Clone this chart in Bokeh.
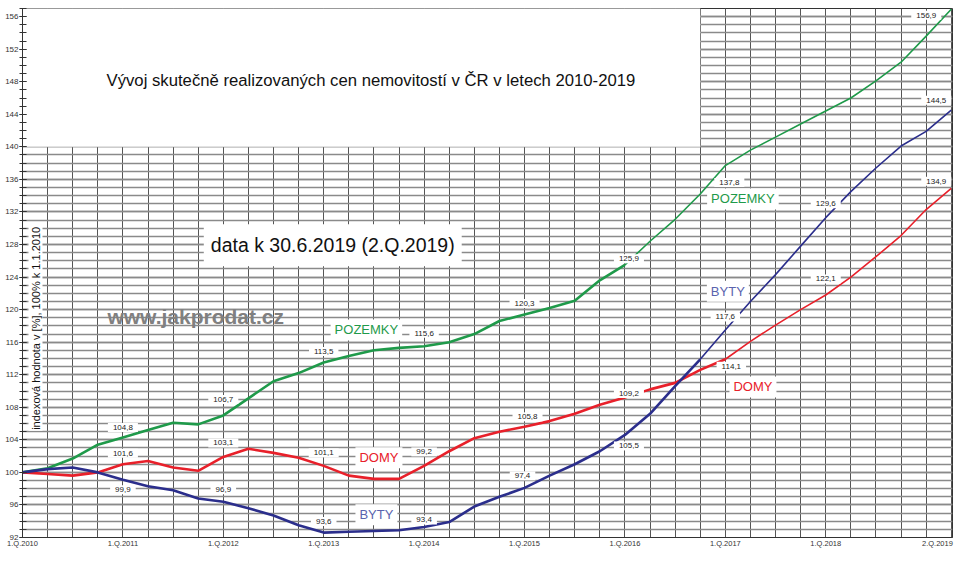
from math import pi
from bokeh.plotting import figure
from bokeh.models import Range1d, FixedTicker, Label
from bokeh.embed import file_html
from bokeh.resources import INLINE

# ---------------- data ----------------
quarters = list(range(38))  # 1.Q.2010 ... 2.Q.2019

byty = [100.0, 100.4, 100.6, 100.0, 99.1, 98.3, 97.8, 96.8, 96.4, 95.6,
        94.7, 93.5, 92.6, 92.7, 92.8, 92.9, 93.3, 93.9, 95.8, 97.0,
        98.1, 99.6, 101.0, 102.6, 104.6, 107.2, 110.6, 113.9, 117.5, 121.0,
        124.3, 127.8, 131.3, 134.5, 137.4, 140.1, 141.9, 144.5]

domy = [100.0, 99.8, 99.6, 100.0, 101.0, 101.4, 100.6, 100.2, 101.9, 102.9,
        102.4, 101.8, 100.8, 99.6, 99.2, 99.2, 100.8, 102.6, 104.2, 105.0,
        105.6, 106.3, 107.2, 108.3, 109.2, 110.2, 111.0, 112.6, 113.9, 116.1,
        118.1, 120.0, 121.8, 124.0, 126.5, 129.1, 132.3, 134.9]

pozemky = [100.0, 100.5, 101.7, 103.4, 104.3, 105.2, 106.1, 105.9, 107.0, 109.1,
           111.2, 112.2, 113.5, 114.3, 115.0, 115.3, 115.5, 116.0, 117.0, 118.6,
           119.4, 120.2, 121.1, 123.6, 125.5, 128.4, 131.1, 134.2, 137.7, 139.6,
           141.2, 142.8, 144.4, 146.0, 148.1, 150.4, 153.6, 156.9]

x_tick_quarters = [0, 4, 8, 12, 16, 20, 24, 28, 32]
x_tick_labels = ["1.Q.2010", "1.Q.2011", "1.Q.2012", "1.Q.2013", "1.Q.2014",
                 "1.Q.2015", "1.Q.2016", "1.Q.2017", "1.Q.2018"]
last_quarter_label = "2.Q.2019"
y_ticks = list(range(92, 157, 4))

label_quarters_byty = [4, 8, 12, 16, 20, 24, 28, 32, 37]
label_texts_byty = ["99,9", "96,9", "93,6", "93,4", "97,4", "105,5", "117,6", "129,6", "144,5"]
label_quarters_domy = [4, 8, 12, 16, 20, 24, 28, 32, 37]
label_texts_domy = ["101,6", "103,1", "101,1", "99,2", "105,8", "109,2", "114,1", "122,1", "134,9"]
label_quarters_pozemky = [4, 8, 12, 16, 20, 24, 28, 37]
label_texts_pozemky = ["104,8", "106,7", "113,5", "115,6", "120,3", "125,9", "137,8", "156,9"]

title_text = "Vývoj skutečně realizovaných cen nemovitostí v ČR v letech 2010-2019"
date_text = "data k 30.6.2019 (2.Q.2019)"
web_text = "www.jakprodat.cz"
ylabel_text = "indexová hodnota v [%], 100% k 1.1.2010"

# ---------------- styles / placement ----------------
FONT = "Liberation Sans"
C_BYTY = "#2b2e8c"
C_BYTY_TXT = "#5a63ae"
C_DOMY = "#e8202a"
C_POZ = "#1f9a4a"

# pixel offsets of value labels relative to their point (dx right, dy up)
off_byty = [(0, -10), (0, 12), (0, 11), (0, 7), (-2, 12), (4, -11), (0, 13), (0, 14), (-15, 10)]
off_domy = [(0, 11), (0, 14), (0, 13), (0, 14), (3, 10), (4, 4), (6, -7), (0, 16), (-15, 7)]
off_poz = [(0, 10), (0, 16), (0, 11), (0, 13), (0, 11), (4, 6), (4, -17), (-25, -6)]

LAST_LABEL_POS = 36.45  # where the right-most axis label is centred

p = figure(width=954, height=550, x_range=Range1d(0, 37.05), y_range=Range1d(92, 157),
           output_backend="svg", toolbar_location=None,
           min_border_left=22, min_border_right=2, min_border_top=8, min_border_bottom=0)

p.background_fill_color = "white"
p.border_fill_color = "white"
p.outline_line_color = "#333333"
p.outline_line_width = 1

# axes
p.xaxis.ticker = FixedTicker(ticks=x_tick_quarters + [LAST_LABEL_POS], minor_ticks=[])
overrides = {q: t for q, t in zip(x_tick_quarters, x_tick_labels)}
overrides[LAST_LABEL_POS] = last_quarter_label
p.xaxis.major_label_overrides = overrides
p.yaxis.ticker = FixedTicker(ticks=y_ticks, minor_ticks=list(range(92, 158)))
for ax in (p.xaxis[0], p.yaxis[0]):
    ax.axis_line_color = "#333333"
    ax.major_label_text_font = FONT
    ax.major_label_text_color = "#333333"
    ax.major_tick_line_color = "#333333"
    ax.minor_tick_line_color = "#333333"
p.xaxis.major_label_text_font_size = "7.5px"
p.xaxis.major_label_standoff = 1
p.xaxis.major_tick_in = 0
p.xaxis.major_tick_out = 0
p.xaxis.minor_tick_in = 0
p.xaxis.minor_tick_out = 0
p.yaxis.major_label_text_font_size = "8px"
p.yaxis.major_label_standoff = 1
p.yaxis.major_tick_in = 4
p.yaxis.major_tick_out = 3
p.yaxis.minor_tick_in = 4
p.yaxis.minor_tick_out = 3

# grid
p.xgrid.ticker = FixedTicker(ticks=x_tick_quarters, minor_ticks=quarters)
p.xgrid.grid_line_color = "#555555"
p.xgrid.minor_grid_line_color = "#555555"
p.xgrid.grid_line_width = 1
p.xgrid.minor_grid_line_width = 1
p.ygrid.grid_line_color = "#8a8a8a"
p.ygrid.minor_grid_line_color = "#8a8a8a"
p.ygrid.grid_line_width = 1.4
p.ygrid.minor_grid_line_width = 1.4

# blank area at top-left (no grid there in the original)
p.quad(left=-1, right=27, bottom=140, top=158, fill_color="white", line_color=None)

# series lines: thicker left part, thinner right part
def draw(series, color, k):
    p.line(quarters[:k + 1], series[:k + 1], line_color=color, line_width=2.6)
    p.line(quarters[k:], series[k:], line_color=color, line_width=1.6)

draw(pozemky, C_POZ, 24)
draw(domy, C_DOMY, 28)
draw(byty, C_BYTY, 27)

# value labels
def value_labels(series, qs, texts, offs):
    for q, t, (dx, dy) in zip(qs, texts, offs):
        p.add_layout(Label(x=q, y=series[q], text=t, x_offset=dx, y_offset=dy,
                           text_align="center", text_baseline="middle",
                           text_font=FONT, text_font_size="8px", text_color="#222222",
                           background_fill_color="white", padding=dict(x=5, y=2)))

value_labels(byty, label_quarters_byty, label_texts_byty, off_byty)
value_labels(domy, label_quarters_domy, label_texts_domy, off_domy)
value_labels(pozemky, label_quarters_pozemky, label_texts_pozemky, off_poz)

# series names
def name(x, y, t, c):
    p.add_layout(Label(x=x, y=y, text=t, text_align="center", text_baseline="middle",
                       text_font=FONT, text_font_size="13px", text_color=c,
                       background_fill_color="white", padding=dict(x=4, y=3)))

name(13.7, 117.5, "POZEMKY", C_POZ)
name(14.2, 101.8, "DOMY", C_DOMY)
name(14.1, 94.8, "BYTY", C_BYTY_TXT)
name(28.7, 133.6, "POZEMKY", C_POZ)
name(28.1, 122.25, "BYTY", C_BYTY_TXT)
name(29.1, 110.5, "DOMY", C_DOMY)

# texts
p.add_layout(Label(x=13.88, y=148.2, text=title_text, text_align="center", text_baseline="middle",
                   text_font=FONT, text_font_size="16.7px", text_color="#111111"))
p.add_layout(Label(x=12.36, y=127.9, text=date_text, text_align="center", text_baseline="middle",
                   text_font=FONT, text_font_size="19.5px", text_color="#111111",
                   background_fill_color="white", padding=dict(x=7, y=10)))
p.add_layout(Label(x=6.9, y=119.1, text=web_text, text_align="center", text_baseline="middle",
                   text_font=FONT, text_font_size="21px", text_font_style="bold",
                   text_color="#808080"))
p.add_layout(Label(x=0, y=117.7, x_offset=13, text=ylabel_text, angle=pi / 2,
                   text_align="center", text_baseline="middle",
                   text_font=FONT, text_font_size="11px", text_color="#111111",
                   background_fill_color="white", padding=1))

open("out.html", "w").write(file_html(p, INLINE))
